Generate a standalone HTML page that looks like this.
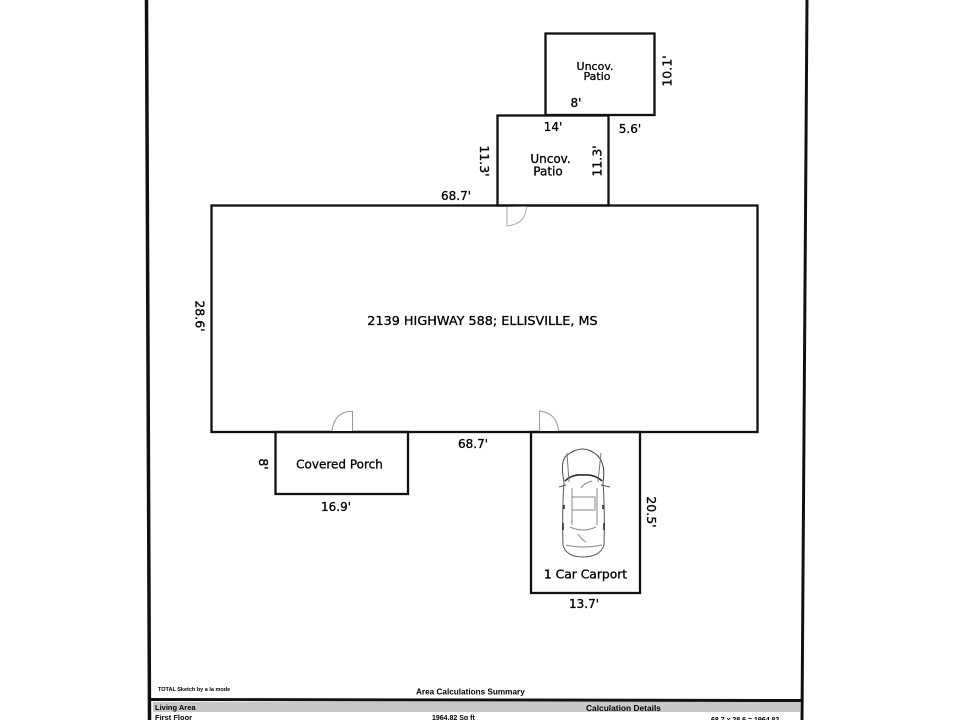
<!DOCTYPE html>
<html>
<head>
<meta charset="utf-8">
<style>
html,body{margin:0;padding:0;background:#fff;width:960px;height:720px;overflow:hidden}
svg{display:block}
text{font-family:"DejaVu Sans","Liberation Sans",sans-serif;fill:#000}
.l{font-size:12px;text-anchor:middle;stroke:#000;stroke-width:.3px}
.b{font-family:"Liberation Sans",sans-serif;font-weight:bold;fill:#000}
</style>
</head>
<body>
<svg width="960" height="720" viewBox="0 0 960 720" xmlns="http://www.w3.org/2000/svg">
<rect width="960" height="720" fill="#fff"/>
<!-- page frame -->
<path d="M146.500 0L149.500 720" stroke="#111" stroke-width="3.500" fill="none"/>
<path d="M807 0L802 720" stroke="#111" stroke-width="3" fill="none"/>
<path d="M148 699.500L802 700.500" stroke="#111" stroke-width="3" fill="none"/>
<rect x="153" y="702" width="647" height="10" fill="#c9c9c9"/>
<!-- main house -->
<rect x="211.500" y="205.500" width="546" height="226.500" fill="none" stroke="#111" stroke-width="2.300"/>
<!-- patios -->
<rect x="545.500" y="33.500" width="109" height="81.500" fill="none" stroke="#111" stroke-width="2.300"/>
<rect x="497.500" y="115.500" width="111" height="90" fill="none" stroke="#111" stroke-width="2.300"/>
<!-- porch and carport -->
<rect x="275.500" y="432" width="132.500" height="62" fill="none" stroke="#111" stroke-width="2.300"/>
<rect x="531" y="432" width="109" height="161" fill="none" stroke="#111" stroke-width="2.300"/>
<!-- doors -->
<path d="M526.500 206.500Q526 224 507 226L507 207" fill="#fff" stroke="#aaa" stroke-width="1"/>
<path d="M352.500 431V411.500H348Q334 414 332 431" fill="#fff" stroke="#999" stroke-width="1"/>
<path d="M539.500 431V411Q557 413 558.500 431" fill="#fff" stroke="#999" stroke-width="1"/>
<!-- car -->
<g fill="none" stroke="#555" stroke-width="1">
<path d="M564 482Q560 462 566 456Q583 442 598 456Q606 465 603 482" stroke="#444"/>
<path d="M565 481Q572 474 583 475Q595 474 602 481" stroke="#222" stroke-width="1.500"/>
<path d="M564 482Q562 510 563 545Q566 557 583 557Q600 557 604 545Q605 510 603 482"/>
<path d="M569 482L567 453M598 482L601 453" stroke="#777"/>
<path d="M559 487L566 485M601 485L610 487"/>
<rect x="572" y="497" width="23" height="13" stroke="#888"/>
<path d="M581 488Q584 483 592 481M570 527Q583 533 596 527M566 545Q583 549 602 545M578 534Q582 540 586 542M572 488V525M597 488V525" stroke="#888"/>
<path d="M563 523V530M604 523V530M564 505V509M603 505V509" stroke="#222" stroke-width="1.500"/>
</g>
<!-- labels -->
<text class="l" x="456" y="200">68.7'</text>
<text class="l" x="473" y="448">68.7'</text>
<text class="l" x="336" y="511">16.9'</text>
<text class="l" x="584" y="608">13.7'</text>
<text class="l" x="576" y="107">8'</text>
<text class="l" x="553" y="131">14'</text>
<text class="l" x="630" y="133">5.6'</text>
<text class="l" x="482.500" y="325" style="font-size:12.800px">2139 HIGHWAY 588; ELLISVILLE, MS</text>
<text class="l" x="595" y="70" style="font-size:11px">Uncov.</text>
<text class="l" x="597" y="80" style="font-size:11px">Patio</text>
<text class="l" x="550.500" y="163" style="font-size:12px">Uncov.</text>
<text class="l" x="548" y="175.500" style="font-size:12px">Patio</text>
<text class="l" x="339.500" y="468.500" style="font-size:12px">Covered Porch</text>
<text class="l" x="585.500" y="578.500" style="font-size:12.300px">1 Car Carport</text>
<text class="l" transform="translate(671.500 71) rotate(-90)" style="font-size:12.500px">10.1'</text>
<text class="l" transform="translate(601.500 161) rotate(-90)" style="font-size:12.500px">11.3'</text>
<text class="l" transform="translate(480 161) rotate(90)" style="font-size:12.500px">11.3'</text>
<text class="l" transform="translate(195.500 316) rotate(90)" style="font-size:12.500px">28.6'</text>
<text class="l" transform="translate(259 464) rotate(90)" style="font-size:12.500px">8'</text>
<text class="l" transform="translate(647 512) rotate(90)" style="font-size:12.500px">20.5'</text>
<!-- footer -->
<text class="b" x="158" y="691" style="font-size:5.500px">TOTAL Sketch by a la mode</text>
<text class="b" x="416" y="694.500" style="font-size:8.200px">Area Calculations Summary</text>
<text class="b" x="155" y="710" style="font-size:7.500px">Living Area</text>
<text class="b" x="586" y="711" style="font-size:8.400px">Calculation Details</text>
<text class="b" x="155" y="720" style="font-size:7.500px">First Floor</text>
<text class="b" x="432" y="720" style="font-size:7px">1964.82 Sq ft</text>
<text class="b" x="711" y="722" style="font-size:7px">68.7 x 28.6 = 1964.82</text>
</svg>
</body>
</html>
